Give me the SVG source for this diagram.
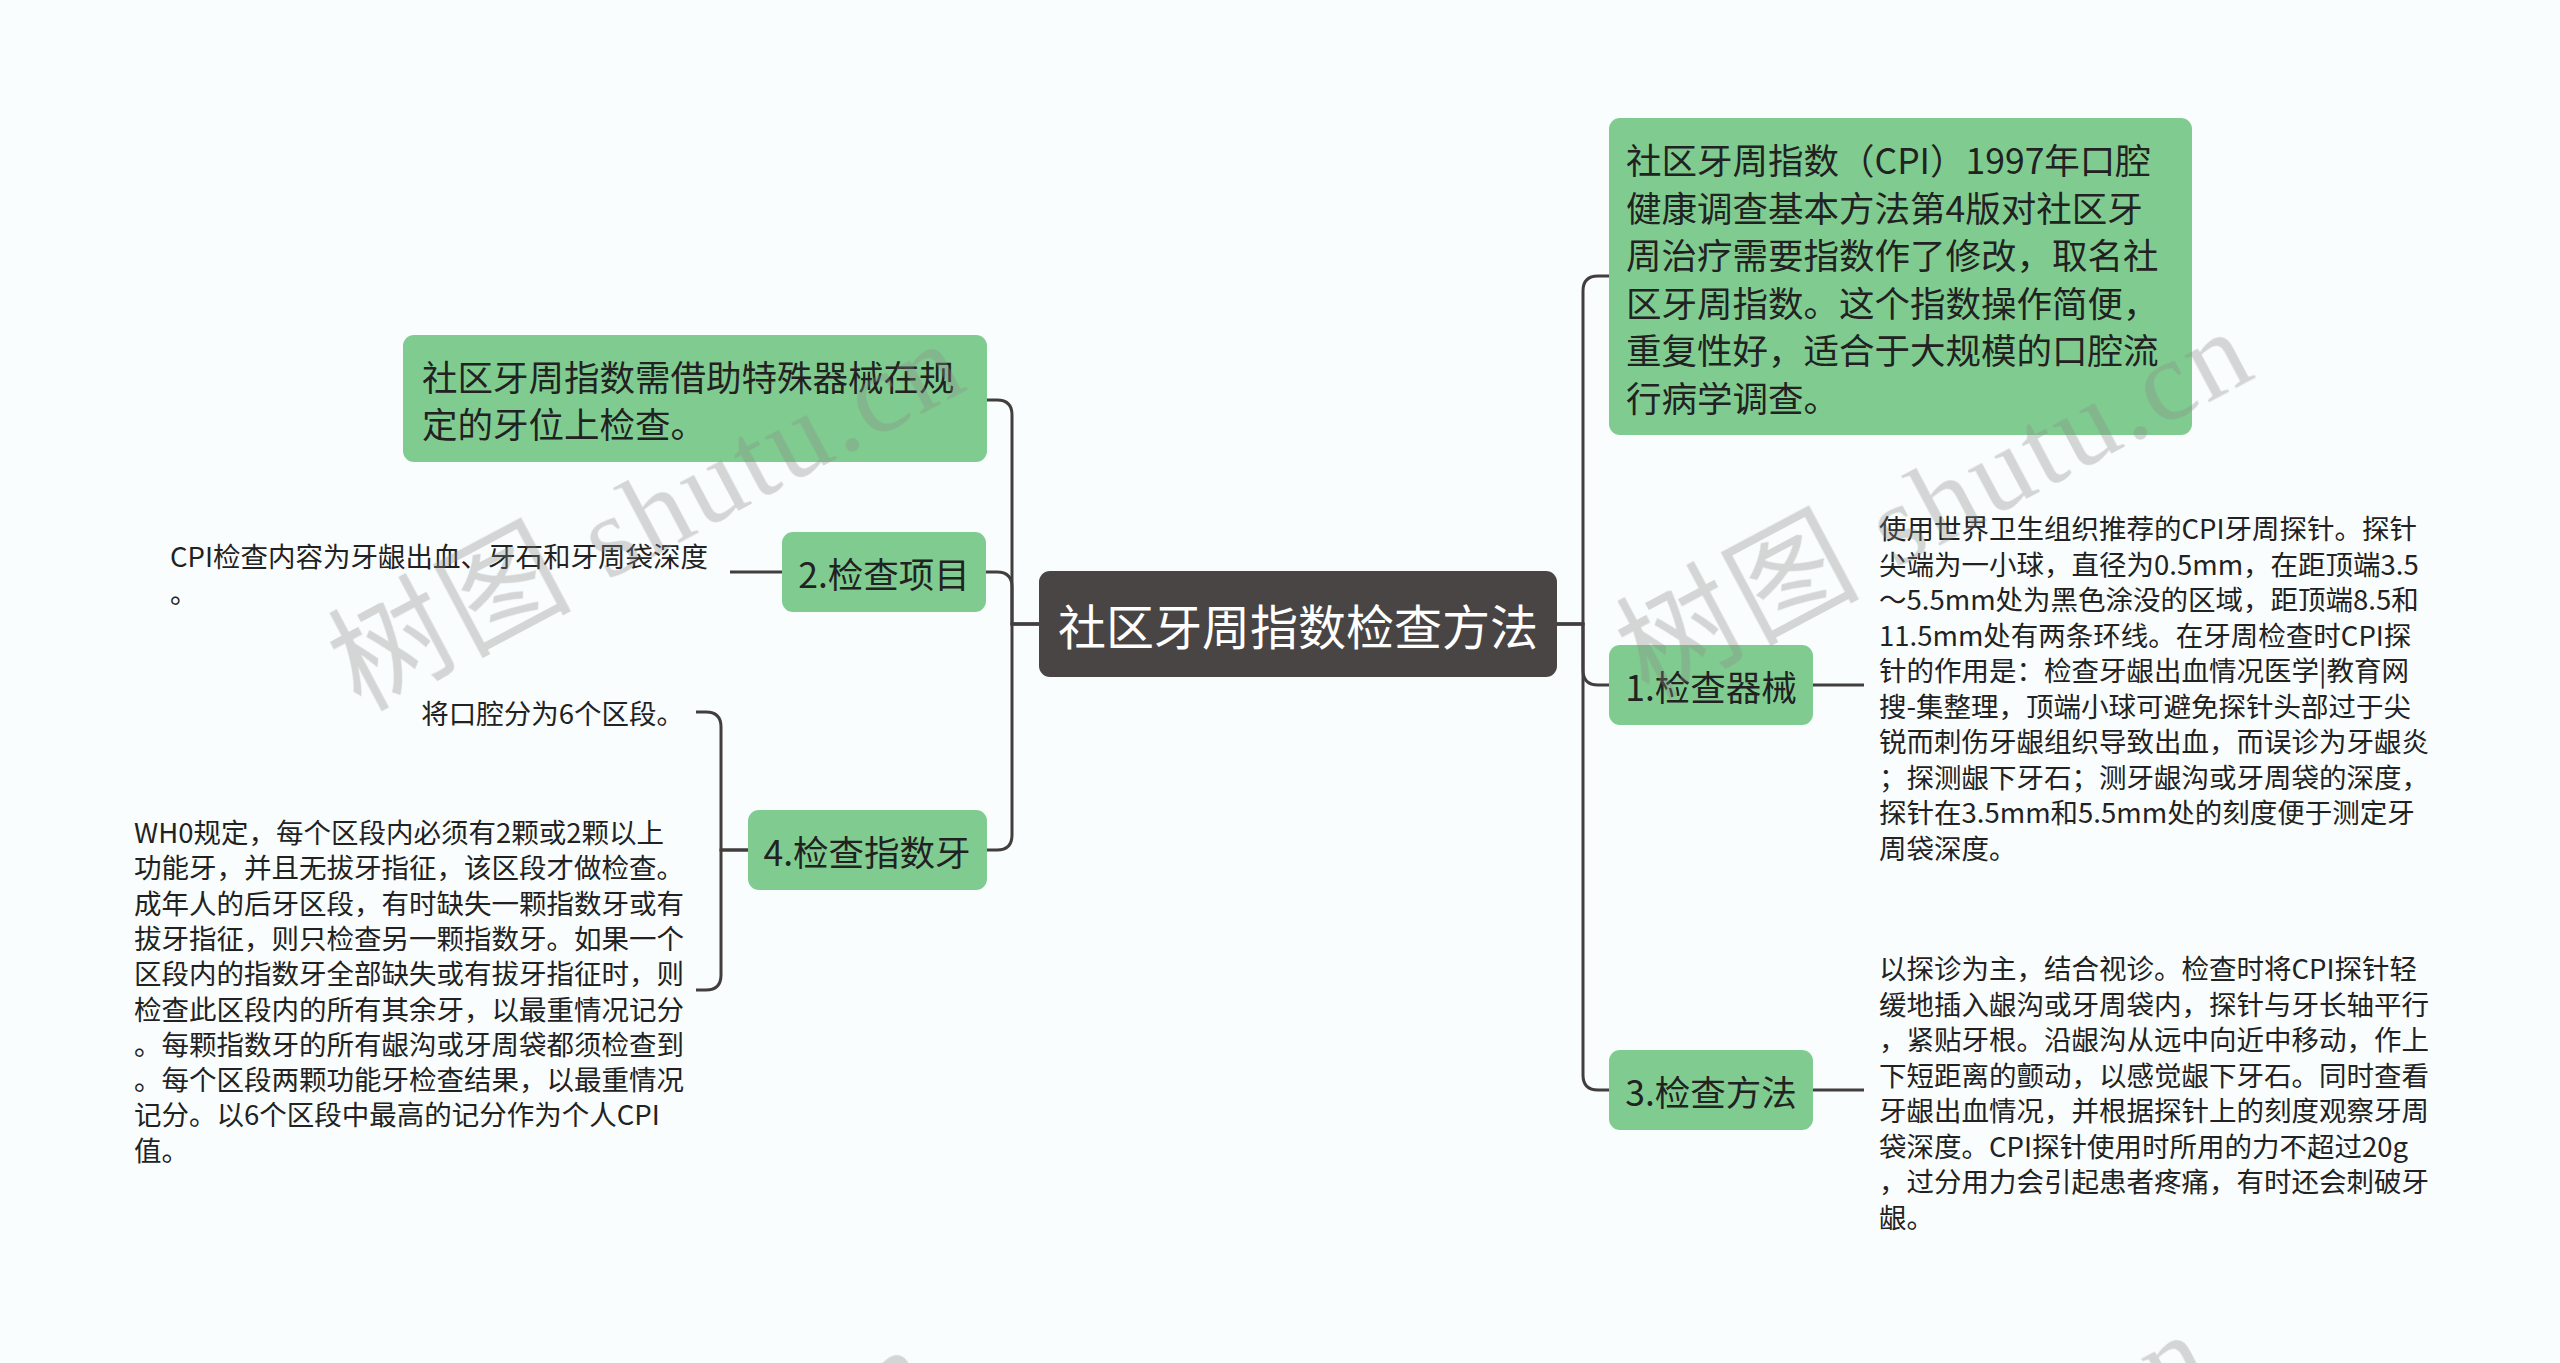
<svg xmlns="http://www.w3.org/2000/svg" width="2560" height="1363" viewBox="0 0 2560 1363">
<defs>
<style>
.bg{fill:#f9fdfd}
.root rect{fill:#4a4545}
.root text{fill:#ffffff;font-family:"Noto Sans CJK SC",sans-serif;font-size:48px;text-anchor:middle;dominant-baseline:central}
.topic rect{fill:#80cc90}
.topic text{fill:#222222;font-family:"Noto Sans CJK SC",sans-serif;font-size:35.5px;dominant-baseline:central}
.topic text.c{text-anchor:middle}
.leaf text{fill:#222222;font-family:"Noto Sans CJK SC",sans-serif;font-size:27.5px;dominant-baseline:central}
.leaf text.r{text-anchor:end}
#connectors path{fill:none;stroke:#433e3e;stroke-width:3}
.wm{fill:#888888;opacity:0.33;font-size:115px}
.wm .cjk{font-family:"Noto Sans CJK SC",sans-serif;font-size:120px}
.wm .lat{font-family:"Liberation Serif",serif}
</style>
</defs>
<rect class="bg" x="0" y="0" width="2560" height="1363"/>

<g id="connectors">
<path d="M1557 624 H1583 V291 Q1583 276 1598 276 H1609"/>
<path d="M1557 624 H1583 V670 Q1583 685 1598 685 H1609"/>
<path d="M1557 624 H1583 V1075 Q1583 1090 1598 1090 H1609"/>
<path d="M1039 624 H1012 V415 Q1012 400 997 400 H987"/>
<path d="M1039 624 H1012 V587 Q1012 572 997 572 H986"/>
<path d="M1039 624 H1012 V835 Q1012 850 997 850 H987"/>
<path d="M782 572 H730"/>
<path d="M748 850 H721 V727 Q721 712 706 712 H696"/>
<path d="M748 850 H721 V975 Q721 990 706 990 H696"/>
<path d="M1813 685 H1864"/>
<path d="M1813 1090 H1864"/>
</g>

<g id="root" class="root">
<rect x="1039" y="571" width="518" height="106" rx="11"/>
<text x="1298" y="624">社区牙周指数检查方法</text>
</g>

<g id="node-right-top" class="topic">
<rect x="1609" y="118" width="583" height="317" rx="11"/>
<text x="1626" y="158.5">社区牙周指数（CPI）1997年口腔</text>
<text x="1626" y="206">健康调查基本方法第4版对社区牙</text>
<text x="1626" y="253.5">周治疗需要指数作了修改，取名社</text>
<text x="1626" y="301">区牙周指数。这个指数操作简便，</text>
<text x="1626" y="348.5">重复性好，适合于大规模的口腔流</text>
<text x="1626" y="396">行病学调查。</text>
</g>

<g id="node-1" class="topic">
<rect x="1609" y="645" width="204" height="80" rx="11"/>
<text class="c" x="1711" y="685">1.检查器械</text>
</g>

<g id="leaf-1" class="leaf">
<text x="1879" y="527">使用世界卫生组织推荐的CPI牙周探针。探针</text>
<text x="1879" y="562.5">尖端为一小球，直径为0.5mm，在距顶端3.5</text>
<text x="1879" y="598">～5.5mm处为黑色涂没的区域，距顶端8.5和</text>
<text x="1879" y="633.5">11.5mm处有两条环线。在牙周检查时CPI探</text>
<text x="1879" y="669">针的作用是：检查牙龈出血情况医学|教育网</text>
<text x="1879" y="704.5">搜-集整理，顶端小球可避免探针头部过于尖</text>
<text x="1879" y="740">锐而刺伤牙龈组织导致出血，而误诊为牙龈炎</text>
<text x="1879" y="775.5">；探测龈下牙石；测牙龈沟或牙周袋的深度，</text>
<text x="1879" y="811">探针在3.5mm和5.5mm处的刻度便于测定牙</text>
<text x="1879" y="846.5">周袋深度。</text>
</g>

<g id="node-3" class="topic">
<rect x="1609" y="1050" width="204" height="80" rx="11"/>
<text class="c" x="1711" y="1090">3.检查方法</text>
</g>

<g id="leaf-3" class="leaf">
<text x="1879" y="967">以探诊为主，结合视诊。检查时将CPI探针轻</text>
<text x="1879" y="1002.5">缓地插入龈沟或牙周袋内，探针与牙长轴平行</text>
<text x="1879" y="1038">，紧贴牙根。沿龈沟从远中向近中移动，作上</text>
<text x="1879" y="1073.5">下短距离的颤动，以感觉龈下牙石。同时查看</text>
<text x="1879" y="1109">牙龈出血情况，并根据探针上的刻度观察牙周</text>
<text x="1879" y="1144.5">袋深度。CPI探针使用时所用的力不超过20g</text>
<text x="1879" y="1180">，过分用力会引起患者疼痛，有时还会刺破牙</text>
<text x="1879" y="1215.5">龈。</text>
</g>

<g id="node-left-top" class="topic">
<rect x="403" y="335" width="584" height="127" rx="11"/>
<text x="422" y="375">社区牙周指数需借助特殊器械在规</text>
<text x="422" y="422">定的牙位上检查。</text>
</g>

<g id="node-2" class="topic">
<rect x="782" y="532" width="204" height="80" rx="11"/>
<text class="c" x="884" y="572">2.检查项目</text>
</g>

<g id="leaf-2" class="leaf">
<text x="170" y="555">CPI检查内容为牙龈出血、牙石和牙周袋深度</text>
<text x="170" y="590.5">。</text>
</g>

<g id="node-4" class="topic">
<rect x="748" y="810" width="239" height="80" rx="11"/>
<text class="c" x="867" y="850">4.检查指数牙</text>
</g>

<g id="leaf-4a" class="leaf">
<text class="r" x="684" y="712">将口腔分为6个区段。</text>
</g>

<g id="leaf-4b" class="leaf">
<text x="134" y="831">WH0规定，每个区段内必须有2颗或2颗以上</text>
<text x="134" y="866.3">功能牙，并且无拔牙指征，该区段才做检查。</text>
<text x="134" y="901.6">成年人的后牙区段，有时缺失一颗指数牙或有</text>
<text x="134" y="936.9">拔牙指征，则只检查另一颗指数牙。如果一个</text>
<text x="134" y="972.2">区段内的指数牙全部缺失或有拔牙指征时，则</text>
<text x="134" y="1007.5">检查此区段内的所有其余牙，以最重情况记分</text>
<text x="134" y="1042.8">。每颗指数牙的所有龈沟或牙周袋都须检查到</text>
<text x="134" y="1078.1">。每个区段两颗功能牙检查结果，以最重情况</text>
<text x="134" y="1113.4">记分。以6个区段中最高的记分作为个人CPI</text>
<text x="134" y="1148.7">值。</text>
</g>

<g id="watermarks" class="wm">
<text transform="translate(360 712) rotate(-28)" textLength="690" lengthAdjust="spacing"><tspan class="cjk">树图</tspan><tspan class="lat"> shutu.cn</tspan></text>
<text transform="translate(1648 700) rotate(-28)" textLength="690" lengthAdjust="spacing"><tspan class="cjk">树图</tspan><tspan class="lat"> shutu.cn</tspan></text>
<text transform="translate(325 1718) rotate(-28)" textLength="690" lengthAdjust="spacing"><tspan class="cjk">树图</tspan><tspan class="lat"> shutu.cn</tspan></text>
<text transform="translate(1605 1703) rotate(-28)" textLength="690" lengthAdjust="spacing"><tspan class="cjk">树图</tspan><tspan class="lat"> shutu.cn</tspan></text>
</g>
</svg>
